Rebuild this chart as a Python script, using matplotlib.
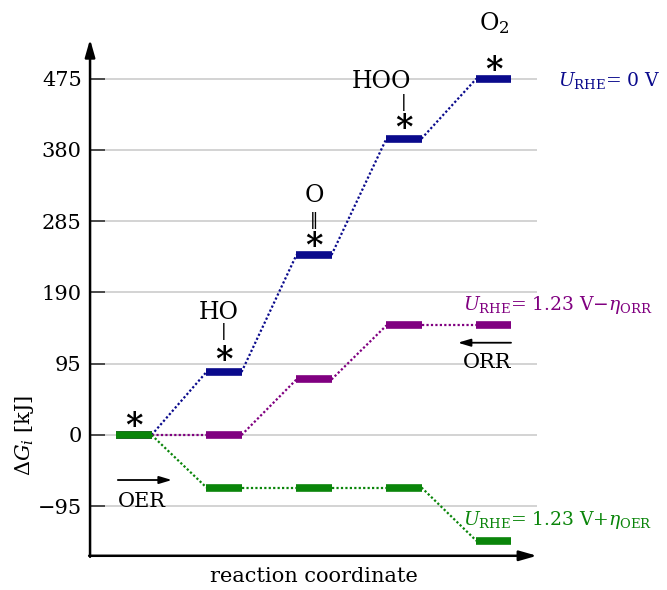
import numpy as np
import matplotlib
matplotlib.use("Agg")
import matplotlib.pyplot as plt

# free energy levels (kJ) per step of the reaction coordinate
steps = [0, 1, 2, 3, 4]
g_u0 = [0, 84, 240, 395, 475]        # U_RHE = 0 V
g_orr = [0, 0, 74, 146, 146]         # U_RHE = 1.23 V - eta_ORR
g_oer = [0, -70, -70, -70, -141]     # U_RHE = 1.23 V + eta_OER
yticks = [-95, 0, 95, 190, 285, 380, 475]

c_blue = "#0a0a8c"
c_purple = "#800080"
c_green = "#0a850a"

plt.rcParams["font.family"] = ["DejaVu Serif", "DejaVu Sans"]
plt.rcParams["mathtext.fontset"] = "dejavuserif"
plt.rcParams["font.size"] = 15

fig = plt.figure(figsize=(6.67, 5.9), dpi=100)
ax = fig.add_axes([0.135, 0.058, 0.67, 0.871])
ax.set_xlim(-0.489, 4.478)
ax.set_ylim(-161, 524)

hw = 0.195  # half width of a level bar


def draw_levels(g, color):
    for i, v in zip(steps, g):
        ax.plot([i - hw, i + hw], [v, v], color=color, lw=5.5,
                solid_capstyle="butt", zorder=3)
    for i in range(len(g) - 1):
        ax.plot([steps[i] + hw, steps[i + 1] - hw], [g[i], g[i + 1]],
                color=color, lw=1.6, ls=(0, (1, 1)), zorder=2)


draw_levels(g_u0, c_blue)
draw_levels(g_orr, c_purple)
draw_levels(g_oer, c_green)

# axes styling
for s in ["top", "right", "left", "bottom"]:
    ax.spines[s].set_visible(False)
ax.set_xticks([])
ax.set_yticks(yticks)
ax.set_yticklabels([str(t).replace("-", "\u2212") for t in yticks])
ax.tick_params(axis="y", direction="in", length=11, width=1.2,
               color="#333333", pad=6)
for t in yticks:
    ax.axhline(t, color="#cccccc", lw=1.2, zorder=0)
ax.annotate("", xy=(0, 1.005), xytext=(0, -0.002), xycoords="axes fraction",
            arrowprops=dict(arrowstyle="-|>,head_length=0.7,head_width=0.2",
                            lw=1.8, color="black", shrinkA=0, shrinkB=0))
ax.annotate("", xy=(1, 0), xytext=(-0.002, 0), xycoords="axes fraction",
            arrowprops=dict(arrowstyle="-|>,head_length=0.7,head_width=0.2",
                            lw=1.8, color="black", shrinkA=0, shrinkB=0))

ax.set_xlabel("reaction coordinate", labelpad=8)
ax.set_ylabel(r"$\Delta G_i$ [kJ]")
ax.yaxis.set_label_coords(-0.12, (0 + 161) / 685)

# adsorbate labels
star_kw = dict(textcoords="offset points", ha="center", va="center",
               fontsize=24, fontweight="bold")
ax.annotate("*", (steps[0], g_oer[0]), xytext=(0, 6), **star_kw)
ax.annotate("*", (steps[1], g_u0[1]), xytext=(0, 8), **star_kw)
ax.annotate("*", (steps[2], g_u0[2]), xytext=(0, 6), **star_kw)
ax.annotate("*", (steps[3], g_u0[3]), xytext=(0, 7), **star_kw)
ax.annotate("*", (steps[4], g_u0[4]), xytext=(0, 6), **star_kw)

txt_kw = dict(textcoords="offset points", ha="center", va="center")
ax.annotate("HO", (steps[1], g_u0[1]), xytext=(-4, 43), fontsize=17, **txt_kw)
ax.annotate("|", (steps[1], g_u0[1]), xytext=(0, 29), fontsize=12, **txt_kw)
ax.annotate("O", (steps[2], g_u0[2]), xytext=(0, 42.5), fontsize=17, **txt_kw)
ax.annotate("\u2016", (steps[2], g_u0[2]), xytext=(0, 25), fontsize=12,
            **txt_kw)
ax.annotate("HOO", (steps[3], g_u0[3]), xytext=(-16, 41), fontsize=17, **txt_kw)
ax.annotate("|", (steps[3], g_u0[3]), xytext=(0, 26), fontsize=12, **txt_kw)
ax.annotate(r"O$_2$", (steps[4], g_u0[4]), xytext=(0, 40), fontsize=17, **txt_kw)

# reaction direction arrows
ax.annotate("", xy=(0.42, -60), xytext=(-0.18, -60),
            arrowprops=dict(arrowstyle="-|>,head_length=0.5,head_width=0.15",
                            lw=1.3, color="black", shrinkA=0, shrinkB=0))
ax.text(-0.18, -88, "OER", ha="left", va="center")
ax.annotate("", xy=(3.6, 123), xytext=(4.19, 123),
            arrowprops=dict(arrowstyle="-|>,head_length=0.5,head_width=0.15",
                            lw=1.3, color="black", shrinkA=0, shrinkB=0))
ax.text(4.19, 96, "ORR", ha="right", va="center")

# potential labels
ax.text(4.71, 473, r"$U_{\mathrm{RHE}}$= 0 V", color=c_blue, fontsize=13.5,
        ha="left", va="center", clip_on=False)
ax.text(3.66, 173, r"$U_{\mathrm{RHE}}$= 1.23 V$-\eta_{\mathrm{ORR}}$",
        color=c_purple, fontsize=13.5, ha="left", va="center", clip_on=False)
ax.text(3.66, -113, r"$U_{\mathrm{RHE}}$= 1.23 V+$\eta_{\mathrm{OER}}$",
        color=c_green, fontsize=13.5, ha="left", va="center", clip_on=False)

fig.savefig("out.png", dpi=100)
